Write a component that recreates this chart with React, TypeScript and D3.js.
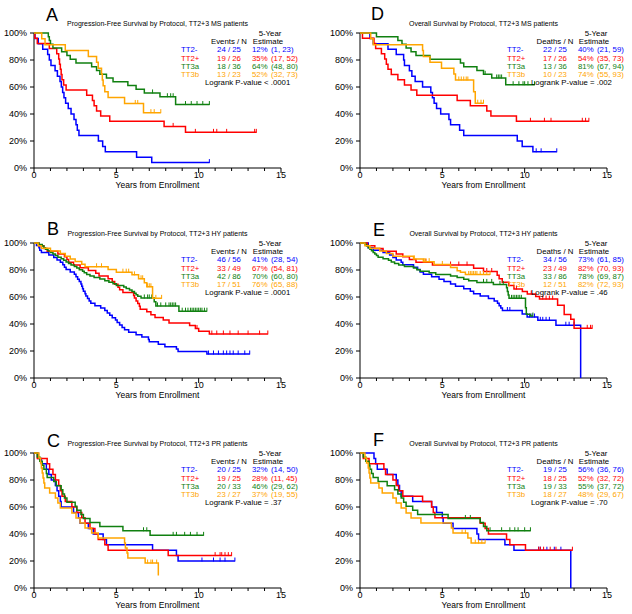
import React from 'react';
import * as d3 from 'd3';

type Step = [number, number];

const groups = ['TT2-', 'TT2+', 'TT3a', 'TT3b'];
const colors = ['#0000ff', '#ff0000', '#108010', '#ffa500'];
const xMajor = [0, 5, 10, 15];
const xMinor = d3.range(0, 16);
const yTicks = [0, 20, 40, 60, 80, 100];

// ---------- Panel A: PFS, MS ----------
const A_TT2m: Step[] = [[0.06,96],[0.26,92],[0.53,88],[0.83,84],[0.93,80],[1.03,76],[1.28,72],[1.42,68],[1.58,64],[1.66,60],[1.74,56],[1.82,52],[1.92,48],[2.08,44],[2.25,40],[2.43,36],[2.55,32],[2.63,28],[2.73,24],[3.91,20],[4.17,16],[4.33,12],[6.23,8],[7.15,4]];
const A_TT2m_c = [10.65];
const A_TT2p: Step[] = [[0.05,96.2],[0.2,92.3],[0.93,88.5],[1.38,84.6],[1.5,80.8],[1.55,76.9],[1.6,73.1],[1.65,69.2],[1.7,65.4],[1.8,61.5],[1.95,57.7],[3.2,53.8],[3.55,50],[3.65,46.2],[3.8,42.3],[4.05,38.5],[4.6,34.6],[7.9,30.8],[9.2,26.4]];
const A_TT2p_c = [8.45, 9.8, 10.9, 11.1, 11.7, 13.4, 13.5];
const A_TT3a: Step[] = [[0.87,97.2],[0.93,94.4],[1.0,91.7],[1.15,88.9],[1.68,86.1],[2.0,83.3],[2.2,80.6],[2.55,77.8],[3.5,75],[3.8,72.2],[4.0,69.4],[4.4,66.7],[4.8,63.9],[5.7,61.1],[6.2,58.3],[6.7,55.6],[7.65,52.8],[8.6,47]];
const A_TT3a_c = [7.2, 8.1, 8.3, 8.45, 9.2, 9.55, 9.9, 10.25, 10.65];
const A_TT3b: Step[] = [[0.47,95.7],[0.67,91.3],[1.9,87],[3.3,82.6],[3.8,78.3],[3.9,73.9],[4.1,69.6],[4.15,65.2],[4.2,60.9],[4.3,56.5],[4.5,52.2],[5.5,47.8],[6.65,41]];
const A_TT3b_c = [6.15, 6.3, 7.1, 7.3, 7.7];
const A_counts = ['24 / 25', '19 / 26', '18 / 36', '13 / 23'];
const A_est = ['12%', '35%', '64%', '52%'];
const A_ci = ['(1, 23)', '(17, 52)', '(48, 80)', '(32, 73)'];

// ---------- Panel D: OS, MS ----------
const D_TT2m: Step[] = [[0.6,96],[0.8,92],[1.7,88],[2.2,84],[2.65,80],[2.7,76],[3.0,72],[3.15,68],[3.35,64],[3.8,60],[4.3,56],[4.4,52],[4.5,48],[4.65,44],[4.9,40],[5.4,36],[5.5,32],[6.05,28],[6.3,24],[9.55,20],[9.85,16],[10.5,12]];
const D_TT2m_c = [10.7, 11.0, 11.95];
const D_TT2p: Step[] = [[0.15,96.2],[0.85,92.3],[0.95,88.5],[1.3,84.6],[1.5,80.8],[1.6,76.9],[1.7,73.1],[1.9,69.2],[2.3,65.4],[2.7,61.5],[3.1,57.7],[3.45,53.8],[5.9,50],[6.7,46.2],[7.7,42.3],[7.95,38.5],[9.5,34.6]];
const D_TT2p_c = [10.35, 11.2, 11.6, 13.5, 13.7, 13.9];
const D_TT3a: Step[] = [[1.0,97.2],[2.3,94.4],[2.55,91.7],[2.8,88.9],[3.1,86.1],[3.4,83.3],[4.25,80.6],[6.1,77.8],[6.3,75],[7.1,72.2],[7.5,69.4],[8.0,66.7],[8.85,61.7]];
const D_TT3a_c = [7.6, 8.3, 8.4, 8.5, 8.6, 9.3, 9.65, 9.9, 10.0, 10.2, 10.6];
const D_TT3b: Step[] = [[0.65,95.7],[0.8,91.3],[3.8,87],[3.85,82.6],[4.25,78.3],[4.95,73.9],[5.7,69.6],[5.8,65.2],[6.9,56.5],[7.0,48]];
const D_TT3b_c = [6.0, 6.15, 6.3, 6.45, 6.55, 7.15, 7.35, 7.5];
const D_counts = ['22 / 25', '17 / 26', '13 / 36', '10 / 23'];
const D_est = ['40%', '54%', '81%', '74%'];
const D_ci = ['(21, 59)', '(35, 73)', '(67, 94)', '(55, 93)'];

// ---------- Panel B: PFS, HY ----------
const B_TT2m: Step[] = [[0.15,98.2],[0.3,96.4],[0.35,94.6],[0.45,92.9],[0.9,91.1],[1.2,89.3],[1.4,87.5],[1.6,85.7],[1.75,83.9],[1.85,82.1],[1.95,80.4],[2.2,78.6],[2.45,76.8],[2.55,75],[2.65,73.2],[2.75,71.4],[2.85,69.6],[2.9,67.9],[2.95,66.1],[3.0,64.3],[3.1,62.5],[3.15,60.7],[3.25,58.9],[3.35,57.1],[3.45,55.4],[3.7,53.6],[4.05,51.8],[4.3,50],[4.45,48.2],[4.6,46.4],[4.75,44.6],[4.95,42.9],[5.05,41.1],[5.2,39.3],[5.35,37.5],[5.5,35.7],[5.75,33.9],[6.2,32.1],[6.55,30.4],[6.95,28.6],[7.0,26.8],[7.55,25],[7.95,23.2],[8.65,21.4],[8.75,19.6],[10.5,17.8]];
const B_TT2m_c = [10.6, 10.9, 11.2, 11.5, 11.7, 11.9, 12.1, 12.4, 12.8, 13.1];
const B_TT2p: Step[] = [[0.3,98],[0.6,95.9],[0.8,93.9],[1.45,91.8],[1.85,89.8],[2.0,87.8],[2.1,85.7],[2.4,83.7],[2.8,81.6],[3.3,79.6],[3.75,77.6],[3.95,75.5],[4.5,73.5],[4.75,71.4],[4.9,69.4],[5.1,67.3],[5.2,65.3],[5.4,63.3],[6.05,61.2],[6.1,59.2],[6.2,57.1],[6.3,55.1],[6.4,53.1],[6.45,51],[6.85,49],[7.1,46.9],[7.35,44.9],[7.85,42.9],[8.2,40.8],[9.45,38.8],[9.8,36.7],[10.0,34.7],[10.65,32.6]];
const B_TT2p_c = [9.9, 10.8, 11.1, 11.5, 11.9, 12.4, 13.0, 13.7, 14.2];
const B_TT3a: Step[] = [[0.3,98.8],[0.5,97.7],[0.6,96.5],[0.7,95.3],[0.85,94.2],[1.0,93],[1.15,91.9],[1.3,90.7],[1.45,89.5],[1.65,88.4],[1.8,87.2],[1.95,86],[2.1,84.9],[2.25,83.7],[2.45,82.6],[2.6,81.4],[2.75,80.2],[2.95,79.1],[3.05,77.9],[3.2,76.7],[3.4,75.6],[3.65,74.4],[4.0,73.3],[4.3,72.1],[4.55,70.9],[4.8,69.8],[5.0,68.6],[5.45,67.4],[5.6,66.3],[5.8,65.1],[5.95,64],[6.1,62.8],[6.2,61.6],[6.3,60.5],[6.5,59.3],[7.3,56.4],[7.4,53.4],[8.8,49.5]];
const B_TT3a_c = [6.7, 6.9, 7.0, 7.15, 7.5, 7.7, 8.0, 8.2, 8.3, 8.4, 8.5, 8.6, 9.0, 9.2, 9.35, 9.5, 9.6, 9.7, 9.8, 9.9, 10.0, 10.1, 10.2, 10.35, 10.5];
const B_TT3b: Step[] = [[0.25,98],[0.45,96.1],[1.0,94.1],[1.6,92.2],[1.9,90.2],[2.2,88.2],[2.5,86.3],[2.9,84.3],[3.1,82.4],[4.5,80.4],[5.0,78.4],[5.95,76.4],[6.35,73.5],[6.7,70.6],[6.85,67.6],[7.2,59]];
const B_TT3b_c = [3.8, 4.1, 5.4, 5.6, 5.75, 6.1, 6.5, 6.6, 6.9, 7.0, 7.1, 7.4, 7.75];
const B_counts = ['46 / 56', '33 / 49', '42 / 86', '17 / 51'];
const B_est = ['41%', '67%', '70%', '76%'];
const B_ci = ['(28, 54)', '(54, 81)', '(60, 80)', '(65, 88)'];

// ---------- Panel E: OS, HY ----------
const E_TT2m: Step[] = [[0.5,96.4],[0.8,94.6],[1.4,92.9],[1.8,91.1],[2.0,89.3],[2.2,87.5],[2.5,85.7],[2.6,83.9],[3.25,82.1],[3.5,80.4],[3.65,78.6],[3.85,76.8],[4.35,75],[4.8,73.2],[5.1,71.4],[5.5,69.6],[5.8,67.9],[6.3,66.1],[6.7,64.3],[6.9,62.5],[7.3,60.7],[7.8,58.9],[8.15,57.1],[8.35,55.4],[8.45,53.6],[8.55,51.8],[8.65,50],[9.85,47.5],[10.15,45.2],[10.8,42.7],[11.9,39.1],[13.4,0]];
const E_TT2m_c = [8.95, 9.1, 10.3, 10.45, 10.6, 10.95, 11.1, 11.3, 11.5, 12.5, 12.7, 13.0];
const E_TT2p: Step[] = [[0.45,98],[0.9,95.9],[1.4,93.9],[2.2,91.8],[2.6,89.8],[3.0,87.8],[3.4,85.7],[4.4,83.7],[6.9,81.3],[7.5,78.9],[8.33,76.2],[8.45,73.5],[8.64,71],[9.04,68.5],[9.35,65.9],[9.86,64.1],[10.16,62.2],[10.67,60.3],[10.9,58.5],[12.0,53.8],[12.4,47],[12.8,43.5],[13.0,36.8]];
const E_TT2p_c = [4.0, 5.5, 6.0, 6.5, 7.7, 8.0, 9.5, 10.4, 11.1, 11.3, 11.5, 11.7, 13.8, 14.0, 14.1];
const E_TT3a: Step[] = [[0.3,98.8],[0.4,97.7],[0.5,96.5],[0.6,95.3],[0.7,94.2],[0.8,93],[0.9,91.9],[1.0,90.7],[1.1,89.5],[1.4,88.4],[1.73,87.2],[1.9,86],[2.1,84.9],[2.35,83.7],[2.7,82.6],[3.25,81.4],[3.45,80.2],[3.65,79.1],[4.2,77.9],[4.6,76.7],[5.5,75.6],[5.9,74.4],[6.3,73.2],[6.6,72],[7.1,70.8],[8.1,69.3],[8.9,66.8],[8.95,64],[9.0,61.5],[9.05,59],[10.05,52],[10.1,47.2],[10.35,45.9]];
const E_TT3a_c = [7.5, 7.7, 8.0, 8.5, 8.7, 9.2, 9.3, 9.4, 9.5, 9.6, 9.7, 9.8, 10.5];
const E_TT3b: Step[] = [[0.3,98],[0.6,96.1],[1.2,94.1],[1.6,92.2],[2.0,90.2],[3.25,88.2],[3.85,86.2],[4.5,84.1],[5.5,81.8],[5.9,79.5],[6.1,78.4],[6.4,76.7]];
const E_TT3b_c = [3.3, 3.9, 4.0, 4.2, 5.0, 6.6, 6.7, 6.8, 6.9, 7.0, 7.1, 7.3, 7.5, 7.7, 7.9];
const E_counts = ['34 / 56', '23 / 49', '33 / 86', '12 / 51'];
const E_est = ['73%', '82%', '78%', '82%'];
const E_ci = ['(61, 85)', '(70, 93)', '(69, 87)', '(72, 93)'];

// ---------- Panel C: PFS, PR ----------
const C_TT2m: Step[] = [[0.25,96],[0.45,92],[0.75,88],[0.9,84],[1.05,80],[1.3,76],[1.4,72],[1.5,68],[1.6,64],[1.65,60],[2.4,56],[2.7,52],[2.8,48],[3.3,44],[3.6,40],[4.2,36],[4.4,32],[7.2,28],[8.65,24],[8.75,20]];
const C_TT2m_c = [10.2, 10.9, 11.3, 11.6, 12.2];
const C_TT2p: Step[] = [[0.2,96],[0.8,92],[0.95,88],[1.15,84],[1.3,80],[1.5,76],[1.6,72],[1.7,68],[1.9,64],[2.3,60],[2.6,56],[2.9,52],[3.1,48],[3.4,44],[3.7,40],[3.9,36],[4.3,32],[4.5,28],[8.15,24]];
const C_TT2p_c = [11.0, 11.3, 11.4, 11.6, 11.8, 12.0];
const C_TT3a: Step[] = [[0.2,97],[0.35,93.9],[0.5,90.9],[0.6,87.9],[0.75,84.8],[0.8,81.8],[1.2,78.8],[1.35,75.8],[1.65,72.7],[1.75,69.7],[1.85,66.7],[2.0,63.6],[2.5,60.6],[2.6,57.6],[2.85,54.5],[3.0,51.5],[3.4,48.5],[4.0,45.5],[5.4,42.4],[7.05,39]];
const C_TT3a_c = [6.65, 6.85, 8.45, 8.65, 9.15, 9.5, 9.9, 10.3];
const C_TT3b: Step[] = [[0.3,96.3],[0.4,92.6],[0.45,88.9],[0.5,85.2],[0.55,81.5],[0.6,77.8],[0.65,74.1],[0.95,70.4],[1.3,66.7],[1.45,63],[1.6,59.3],[2.3,55.6],[2.55,51.9],[2.8,48.1],[3.1,44.4],[3.5,40.7],[3.9,37],[5.5,33.3],[5.55,29.6],[5.65,25.9],[5.7,22.2],[6.75,18.5],[7.55,9.2]];
const C_TT3b_c = [6.9, 7.1, 7.2, 7.45];
const C_counts = ['20 / 25', '19 / 25', '20 / 33', '23 / 27'];
const C_est = ['32%', '28%', '46%', '37%'];
const C_ci = ['(14, 50)', '(11, 45)', '(29, 62)', '(19, 55)'];

// ---------- Panel F: OS, PR ----------
const F_TT2m: Step[] = [[0.85,96],[0.95,92],[1.05,88],[1.65,84],[2.2,80],[2.3,76],[2.4,72],[2.5,68],[3.2,64],[4.35,60],[4.65,56],[5.0,52],[5.05,48],[5.65,44],[7.1,40],[7.2,36],[8.8,32],[9.35,28],[12.8,0]];
const F_TT2m_c = [10.85, 10.95, 11.35, 11.8, 12.2];
const F_TT2p: Step[] = [[0.2,96],[0.55,92],[1.45,88],[1.55,84],[2.0,80],[2.2,76],[2.35,72],[2.6,68],[3.8,64],[4.35,60],[4.45,56],[4.55,52],[7.3,48],[7.6,44],[7.8,40],[8.9,36],[9.1,32],[10.05,28]];
const F_TT2p_c = [10.85, 10.95, 11.15, 11.55, 11.9, 12.9];
const F_TT3a: Step[] = [[0.2,97],[0.35,93.9],[0.55,90.9],[0.6,87.9],[0.7,84.8],[0.8,81.8],[1.1,78.8],[1.65,75.8],[2.1,72.7],[2.3,69.7],[2.5,66.7],[2.65,63.6],[2.8,60.6],[3.2,57.6],[3.5,54.5],[5.35,51.5],[7.3,48.5],[7.5,45.5],[7.7,42.4]];
const F_TT3a_c = [6.4, 6.7, 7.9, 8.6, 9.1, 9.4, 9.6, 10.0, 10.35];
const F_TT3b: Step[] = [[0.3,96.3],[0.4,92.6],[0.5,88.9],[0.55,85.2],[0.6,81.5],[0.65,77.8],[1.15,74.1],[1.35,70.4],[2.0,66.7],[2.2,63],[2.5,59.3],[2.8,55.6],[3.1,51.9],[3.7,48.1],[5.55,44.4],[5.65,40.7],[6.55,37],[6.75,33.3]];
const F_TT3b_c = [6.2, 6.4, 7.0, 7.2, 7.4, 7.6];
const F_counts = ['19 / 25', '18 / 25', '19 / 33', '18 / 27'];
const F_est = ['56%', '52%', '55%', '48%'];
const F_ci = ['(36, 76)', '(32, 72)', '(37, 72)', '(29, 67)'];

const PFS = 'Progression-Free Survival by Protocol, TT2+3 ';
const OS = 'Overall Survival by Protocol, TT2+3 ';

const panels = [
  { letter: 'A', lx: 46, ly: 21, title: PFS + 'MS patients', x0: 34, y0: 33, head: 'Events / N', p: '< .0001',
    curves: [[A_TT2m, A_TT2m_c], [A_TT2p, A_TT2p_c], [A_TT3a, A_TT3a_c], [A_TT3b, A_TT3b_c]], counts: A_counts, est: A_est, ci: A_ci },
  { letter: 'D', lx: 371, ly: 20, title: OS + 'MS patients', x0: 360, y0: 33, head: 'Deaths / N', p: '= .002',
    curves: [[D_TT2m, D_TT2m_c], [D_TT2p, D_TT2p_c], [D_TT3a, D_TT3a_c], [D_TT3b, D_TT3b_c]], counts: D_counts, est: D_est, ci: D_ci },
  { letter: 'B', lx: 47, ly: 235, title: PFS + 'HY patients', x0: 34, y0: 243, head: 'Events / N', p: '= .0001',
    curves: [[B_TT2m, B_TT2m_c], [B_TT2p, B_TT2p_c], [B_TT3a, B_TT3a_c], [B_TT3b, B_TT3b_c]], counts: B_counts, est: B_est, ci: B_ci },
  { letter: 'E', lx: 373, ly: 236, title: OS + 'HY patients', x0: 360, y0: 243, head: 'Deaths / N', p: '= .46',
    curves: [[E_TT2m, E_TT2m_c], [E_TT2p, E_TT2p_c], [E_TT3a, E_TT3a_c], [E_TT3b, E_TT3b_c]], counts: E_counts, est: E_est, ci: E_ci },
  { letter: 'C', lx: 47, ly: 447, title: PFS + 'PR patients', x0: 34, y0: 453, head: 'Events / N', p: '= .37',
    curves: [[C_TT2m, C_TT2m_c], [C_TT2p, C_TT2p_c], [C_TT3a, C_TT3a_c], [C_TT3b, C_TT3b_c]], counts: C_counts, est: C_est, ci: C_ci },
  { letter: 'F', lx: 373, ly: 446, title: OS + 'PR patients', x0: 360, y0: 453, head: 'Deaths / N', p: '= .70',
    curves: [[F_TT2m, F_TT2m_c], [F_TT2p, F_TT2p_c], [F_TT3a, F_TT3a_c], [F_TT3b, F_TT3b_c]], counts: F_counts, est: F_est, ci: F_ci },
];

const W = 247;
const H = 135;
const FONT = '"Liberation Sans", Arial, sans-serif';
const LSX = 1.15; // horizontal stretch of legend text

function valueAt(steps: Step[], t: number) {
  let v = 100;
  for (const [st, sv] of steps) if (st <= t) v = sv;
  return v;
}

function Panel({ cfg }: { cfg: any }) {
  const x = d3.scaleLinear().domain([0, 15]).range([cfg.x0, cfg.x0 + W]);
  const y = d3.scaleLinear().domain([0, 100]).range([cfg.y0 + H, cfg.y0]);
  const line = d3.line<Step>().x(d => x(d[0])).y(d => y(d[1])).curve(d3.curveStepAfter);
  const bottom = cfg.y0 + H;
  const lg = (dy: number) => cfg.y0 + dy + 2.5;
  const lx = (rel: number) => rel / LSX;
  const rowY = [17, 25.1, 33.2, 41.3];
  return (
    <g>
      <text x={cfg.lx} y={cfg.ly} fontSize={18} fontFamily={FONT}>{cfg.letter}</text>
      <text x={cfg.x0 + W / 2} y={cfg.y0 - 7.5} fontSize={7} textAnchor="middle" fontFamily={FONT}>{cfg.title}</text>
      <line x1={cfg.x0} x2={cfg.x0} y1={cfg.y0} y2={bottom} stroke="#000" strokeWidth={1} />
      <line x1={cfg.x0} x2={cfg.x0 + W} y1={bottom} y2={bottom} stroke="#000" strokeWidth={1} />
      {yTicks.map(t => (
        <g key={'y' + t}>
          <line x1={cfg.x0 - 4} x2={cfg.x0} y1={y(t)} y2={y(t)} stroke="#000" />
          <text x={cfg.x0 - 7} y={y(t) + 3.2} fontSize={9} textAnchor="end" fontFamily={FONT}>{t + '%'}</text>
        </g>
      ))}
      {xMinor.map(t => (
        <line key={'xm' + t} x1={x(t)} x2={x(t)} y1={bottom} y2={bottom + (t % 5 === 0 ? 5 : 3)} stroke="#000" />
      ))}
      {xMajor.map(t => (
        <text key={'x' + t} x={x(t)} y={bottom + 10} fontSize={9} textAnchor="middle" fontFamily={FONT}>{t}</text>
      ))}
      <text x={cfg.x0 + W / 2} y={bottom + 20} fontSize={8.5} textAnchor="middle" fontFamily={FONT}>Years from Enrollment</text>
      {cfg.curves.map((c: any, i: number) => {
        const steps: Step[] = c[0];
        const cens: number[] = c[1];
        const last = steps[steps.length - 1];
        const end = Math.max(last[0], ...(cens.length ? cens : [0]));
        const pts: Step[] = [[0, 100], ...steps];
        if (end > last[0]) pts.push([end, last[1]]);
        return (
          <g key={'c' + i}>
            <path d={line(pts) || ''} fill="none" stroke={colors[i]} strokeWidth={1.5} />
            {cens.map((t, j) => {
              const v = valueAt(steps, t);
              return <line key={j} x1={x(t)} x2={x(t)} y1={y(v) - 3.5} y2={y(v) + 0.5} stroke={colors[i]} strokeWidth={1} />;
            })}
          </g>
        );
      })}
      <g fontSize={6.8} fontFamily={FONT} transform={`translate(${cfg.x0} 0) scale(${LSX} 1)`}>
        <text x={lx(236)} y={lg(0.8)} textAnchor="middle">5-Year</text>
        <text x={lx(234)} y={lg(9)} textAnchor="middle">Estimate</text>
        <text x={lx(195)} y={lg(9)} textAnchor="middle">{cfg.head}</text>
        {groups.map((g, i) => (
          <g key={'l' + i} fill={colors[i]}>
            <text x={lx(147)} y={lg(rowY[i])}>{g}</text>
            <text x={lx(195)} y={lg(rowY[i])} textAnchor="middle">{cfg.counts[i]}</text>
            <text x={lx(218)} y={lg(rowY[i])}>{cfg.est[i]}</text>
            <text x={lx(237)} y={lg(rowY[i])}>{cfg.ci[i]}</text>
          </g>
        ))}
        <text x={lx(171)} y={lg(49.4)}>{'Logrank P-value ' + cfg.p}</text>
      </g>
    </g>
  );
}

export default function App() {
  return (
    <svg width={632} height={614} style={{ position: 'absolute', left: 0, top: 0, background: '#fff' }}>
      <rect x={0} y={0} width={632} height={614} fill="#fff" />
      {panels.map(p => <Panel key={p.letter} cfg={p} />)}
    </svg>
  );
}
